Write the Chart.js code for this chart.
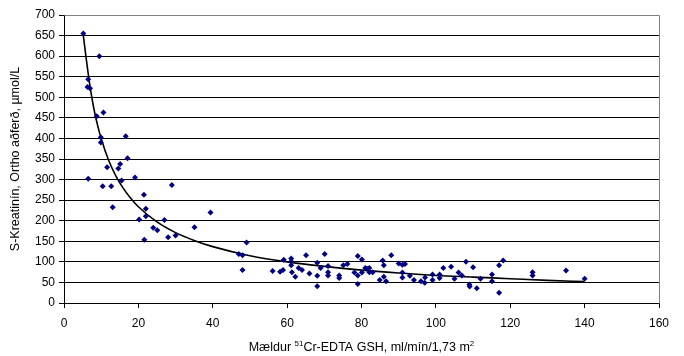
<!DOCTYPE html>
<html>
<head>
<meta charset="utf-8">
<script src="https://cdn.jsdelivr.net/npm/chart.js@4/dist/chart.umd.min.js"></script>
<style>
  html, body { margin: 0; padding: 0; background: #fff; }
  #wrap { width: 684px; height: 356px; position: relative; }
</style>
</head>
<body>
<div id="wrap"><canvas id="chart"></canvas></div>
<script>
// Mælt GSH (x) og S-kreatínín (y), lesið af myndinni
const gshValues = [
  5.2, 9.5, 6.5, 6.3, 7.0, 8.8, 10.6, 9.9, 9.9, 16.6, 17.1, 11.6, 14.6, 15.1, 6.5,
  10.4, 12.7, 15.5, 19.1, 13.1, 29.0, 21.5, 22.0, 22.0, 20.2, 27.0, 24.0, 25.1, 21.6,
  28.0, 30.0, 35.1, 39.4, 47.0, 48.0, 49.1, 48.0,
  56.1, 58.1, 58.9, 59.1, 61.1, 61.1, 61.1, 61.3, 62.2, 63.1, 64.0, 65.1, 66.0,
  68.1, 68.1, 68.1, 69.0, 70.1, 71.0, 71.0, 71.0, 74.0, 74.0, 75.1, 76.2, 78.1,
  79.0, 80.1, 79.0, 79.0, 80.1, 81.0, 82.1, 82.1, 83.0, 81.5,
  84.9, 85.7, 86.0, 86.0, 86.6, 88.0, 90.0, 91.0, 91.7, 91.0, 91.0, 93.0, 94.1,
  96.0, 97.0, 97.1, 99.1, 99.1, 101.0, 101.0, 102.0, 104.1, 105.0, 106.1, 107.0,
  108.1, 109.0, 109.1, 110.0, 111.0, 112.0, 115.1, 115.1, 117.0, 117.0, 118.1,
  126.0, 126.0, 135.0, 140.0
];
const creatValues = [
  655, 600, 544, 525, 522, 454, 463, 403, 390, 405, 352, 330, 327, 338, 302,
  284, 284, 298, 305, 233, 287, 263, 229, 211, 203, 202, 183, 177, 154,
  160, 164, 184, 220, 119, 116, 147, 80,
  78, 76, 80, 105, 108, 101, 92, 75, 64, 85, 80, 116, 72,
  98, 66, 41, 85, 119, 90, 75, 67, 67, 61, 92, 95, 74,
  114, 106, 67, 46, 74, 85, 85, 75, 75, 83,
  56, 103, 92, 64, 53, 116, 96, 93, 95, 74, 62, 66, 56,
  53, 49, 62, 69, 56, 69, 61, 85, 88, 59, 74, 67,
  100, 45, 40, 87, 36, 59, 69, 53, 92, 25, 103,
  75, 67, 79, 59
];

// Leitnilína (power trendline), lesin af myndinni
const trendX = [5.2, 6, 7, 8, 9, 10, 12, 14, 16, 18, 20, 25, 30, 35, 40, 50, 60, 70, 80, 90, 100, 110, 120, 130, 140];
const trendY = [650, 592, 526, 474, 433, 400, 347, 308, 278, 254, 234, 197, 171, 152, 137, 115, 100, 89, 80, 73, 67, 63, 59, 55, 52];

// x-ás titill í bútum: [texti, hávísir?]
const xTitleParts = [['Mældur ', false], ['51', true], ['Cr-EDTA GSH, ml/mín/1,73 m', false], ['2', true]];
const yTitle = 'S-Kreatinín, Ortho aðferð, µmol/L';

const fontFam = '"Liberation Sans", Arial, sans-serif';

// grár rammi efst og til hægri eins og í Excel
const frame = {
  id: 'frame',
  beforeDatasetsDraw(chart) {
    const { ctx, chartArea: a } = chart;
    ctx.save();
    ctx.strokeStyle = '#808080';
    ctx.lineWidth = 1;
    ctx.beginPath();
    ctx.moveTo(Math.round(a.left) + 0.5, Math.round(a.top) + 0.5);
    ctx.lineTo(Math.round(a.right) + 0.5, Math.round(a.top) + 0.5);
    ctx.lineTo(Math.round(a.right) + 0.5, Math.round(a.bottom) + 0.5);
    ctx.stroke();
    ctx.restore();
  }
};

// x-ás titill með hávísum
const xTitlePlugin = {
  id: 'xTitle',
  afterDraw(chart) {
    const { ctx, chartArea: a } = chart;
    const main = '12.5px ' + fontFam, sup = '8px ' + fontFam;
    ctx.save();
    let w = 0;
    xTitleParts.forEach(p => { ctx.font = p[1] ? sup : main; w += ctx.measureText(p[0]).width; });
    let x = (a.left + a.right) / 2 - w / 2;
    const base = 350.5;
    ctx.fillStyle = '#000';
    ctx.textBaseline = 'alphabetic';
    ctx.textAlign = 'left';
    xTitleParts.forEach(p => {
      ctx.font = p[1] ? sup : main;
      ctx.fillText(p[0], x, p[1] ? base - 5 : base);
      x += ctx.measureText(p[0]).width;
    });
    ctx.restore();
  }
};

const points = gshValues.map((x, i) => ({ x: x, y: creatValues[i] }));
const trend = trendX.map((x, i) => ({ x: x, y: trendY[i] }));

new Chart(document.getElementById('chart'), {
  type: 'scatter',
  data: {
    datasets: [
      {
        data: points,
        pointStyle: 'rectRot',
        pointRadius: 3,
        backgroundColor: '#000080',
        borderColor: '#000080',
        borderWidth: 0
      },
      {
        data: trend,
        showLine: true,
        pointRadius: 0,
        borderColor: '#000',
        borderWidth: 1.6,
        cubicInterpolationMode: 'monotone'
      }
    ]
  },
  options: {
    responsive: true,
    maintainAspectRatio: false,
    animation: false,
    layout: { padding: { top: 15, right: 25, left: 0, bottom: 0 } },
    plugins: { legend: { display: false }, tooltip: { enabled: false } },
    scales: {
      x: {
        type: 'linear',
        min: 0, max: 160,
        ticks: { stepSize: 20, color: '#000', font: { family: fontFam, size: 12 }, padding: 8, maxRotation: 0 },
        grid: { drawOnChartArea: false, color: '#000', tickLength: 5 },
        border: { color: '#000' },
        afterFit(scale) { scale.height = 53; }
      },
      y: {
        min: 0, max: 700,
        ticks: { stepSize: 50, color: '#000', font: { family: fontFam, size: 12 }, padding: 4 },
        grid: { color: '#000', tickLength: 5 },
        border: { color: '#000' },
        title: { display: true, text: yTitle, color: '#000', font: { family: fontFam, size: 12.5 }, padding: { top: 8, bottom: 0 } },
        afterFit(scale) { scale.width = 64; }
      }
    }
  },
  plugins: [frame, xTitlePlugin]
});
</script>
</body>
</html>
